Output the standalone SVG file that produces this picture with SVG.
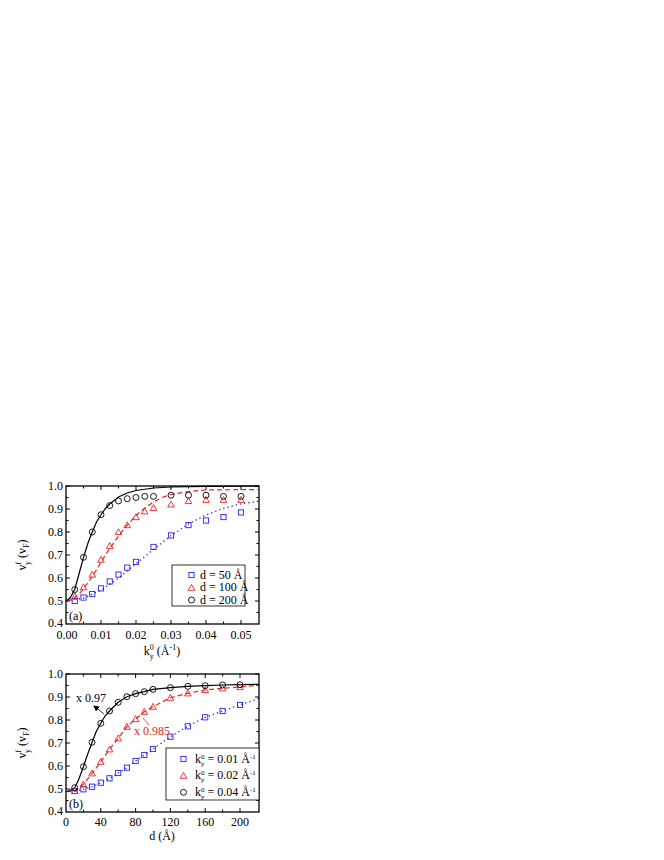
<svg xmlns="http://www.w3.org/2000/svg" width="664" height="860" viewBox="0 0 664 860" font-family="'Liberation Serif','Times New Roman',serif">
<style>
text{font-family:"Liberation Serif","Times New Roman",serif;font-size:12px;fill:#000}
.tl{text-anchor:end}
.tc{text-anchor:middle}
.fr{fill:none;stroke:#000;stroke-width:1.3}
.tk{stroke:#000;stroke-width:1}
.sq{fill:none;stroke:#2222ee;stroke-width:0.9}
.tr{fill:none;stroke:#ee2222;stroke-width:0.9}
.ci{fill:none;stroke:#000;stroke-width:0.9}
.cb{fill:none;stroke:#000;stroke-width:1.2}
.cr{fill:none;stroke:#ee2222;stroke-width:1.2;stroke-dasharray:5 3}
.cu{fill:none;stroke:#2222ee;stroke-width:1.3;stroke-dasharray:1.3 3}
</style>
<defs>
<rect id="s" x="-2.6" y="-2.6" width="5.2" height="5.2" class="sq"/>
<path id="t" d="M0,-3.3 L3.3,2.6 L-3.3,2.6 Z" class="tr"/>
<circle id="c" r="3" class="ci"/>
<marker id="ah" markerWidth="6" markerHeight="6" refX="5" refY="3" orient="auto" markerUnits="userSpaceOnUse"><path d="M0,0 L6,3 L0,6 Z" fill="#000"/></marker>
</defs>
<g id="panel-a">
<rect class="fr" x="66" y="486" width="193" height="138"/>
<g class="tk">
<path d="M66,486h4M66,509h4M66,532h4M66,555h4M66,578h4M66,601h4M66,497.5h2.5M66,520.5h2.5M66,543.5h2.5M66,566.5h2.5M66,589.5h2.5M66,612.5h2.5"/>
<path d="M259,486h-4M259,509h-4M259,532h-4M259,555h-4M259,578h-4M259,601h-4M259,497.5h-2.5M259,520.5h-2.5M259,543.5h-2.5M259,566.5h-2.5M259,589.5h-2.5M259,612.5h-2.5"/>
<path d="M101,624v-4M136,624v-4M171,624v-4M206,624v-4M241,624v-4M83.5,624v-2.5M118.5,624v-2.5M153.5,624v-2.5M188.5,624v-2.5M223.5,624v-2.5"/>
<path d="M101,486v4M136,486v4M171,486v4M206,486v4M241,486v4M83.5,486v2.5M118.5,486v2.5M153.5,486v2.5M188.5,486v2.5M223.5,486v2.5"/>
</g>
<text class="tl" x="63" y="490">1.0</text><text class="tl" x="63" y="513">0.9</text><text class="tl" x="63" y="536">0.8</text><text class="tl" x="63" y="559">0.7</text><text class="tl" x="63" y="582">0.6</text><text class="tl" x="63" y="605">0.5</text><text class="tl" x="63" y="627">0.4</text>
<text class="tc" x="67" y="639">0.00</text><text class="tc" x="101" y="639">0.01</text><text class="tc" x="136" y="639">0.02</text><text class="tc" x="171" y="639">0.03</text><text class="tc" x="206" y="639">0.04</text><text class="tc" x="241" y="639">0.05</text>
<text class="tc" x="162" y="655">k<tspan font-size="8" dy="-5">0</tspan><tspan font-size="8" dx="-4" dy="9">y</tspan><tspan dy="-4"> (Å</tspan><tspan font-size="8" dy="-5">-1</tspan><tspan dy="5">)</tspan></text>
<text transform="translate(26,555) rotate(-90)" class="tc">v<tspan font-size="8" dy="-5">f</tspan><tspan font-size="8" dx="-3" dy="9">y</tspan><tspan dy="-4"> (v</tspan><tspan font-size="8" dy="3">F</tspan><tspan dy="-3">)</tspan></text>
<text x="69" y="620" font-size="13">(a)</text>
<polyline class="cu" points="66,601 83.5,598.2 101,590.2 118.5,578.2 136,563.7 153.5,549.3 171,535.7 188.5,523.9 206,515 223.5,508.3 241,503.9 258.5,501.2"/>
<polyline class="cr" points="66,601 73,599 80,593 87,584 94,574 101,562 108,551 115,541 122,531.5 129,523 136,515.5 144.75,508 153.5,502 162,497.5 171,494.5 188.5,491.5 206,490 258.5,489.5"/>
<polyline class="cb" points="66,601 70,598 74.75,589.5 79,574 83.5,557.3 88,543 92.25,532 96.5,522 101,514.75 105.5,508.5 109.75,504 118.5,497 127.25,493 136,490.5 153.5,488 171,487 206,486.3 258.5,486"/>
<g>
<use href="#s" x="74.75" y="601"/><use href="#s" x="83.5" y="597.55"/><use href="#s" x="92.25" y="594.1"/><use href="#s" x="101" y="588.35"/><use href="#s" x="109.75" y="581.45"/><use href="#s" x="118.5" y="574.55"/><use href="#s" x="127.25" y="567.65"/><use href="#s" x="136" y="561.9"/><use href="#s" x="153.5" y="546.95"/><use href="#s" x="171" y="535.45"/><use href="#s" x="188.5" y="525.1"/><use href="#s" x="206" y="520.5"/><use href="#s" x="223.5" y="517.05"/><use href="#s" x="241" y="512.45"/>
</g>
<g>
<use href="#t" x="74.75" y="596.4"/><use href="#t" x="83.5" y="587.2"/><use href="#t" x="92.25" y="574.55"/><use href="#t" x="101" y="559.6"/><use href="#t" x="109.75" y="545.8"/><use href="#t" x="118.5" y="532"/><use href="#t" x="127.25" y="525.1"/><use href="#t" x="136" y="517.05"/><use href="#t" x="144.75" y="511.3"/><use href="#t" x="153.5" y="507.85"/><use href="#t" x="171" y="504.4"/><use href="#t" x="188.5" y="500.95"/><use href="#t" x="206" y="499.8"/><use href="#t" x="223.5" y="499.8"/><use href="#t" x="241" y="499.8"/>
</g>
<g>
<use href="#c" x="74.75" y="589.5"/><use href="#c" x="83.5" y="557.3"/><use href="#c" x="92.25" y="532"/><use href="#c" x="101" y="514.75"/><use href="#c" x="109.75" y="505.55"/><use href="#c" x="118.5" y="500.95"/><use href="#c" x="127.25" y="498.65"/><use href="#c" x="136" y="497.5"/><use href="#c" x="144.75" y="496.35"/><use href="#c" x="153.5" y="496.35"/><use href="#c" x="171" y="495.2"/><use href="#c" x="188.5" y="495.2"/><use href="#c" x="206" y="495.2"/><use href="#c" x="223.5" y="496.35"/><use href="#c" x="241" y="496.35"/>
</g>
<g id="legend-a">
<rect x="172" y="565" width="73" height="41" fill="#fff" stroke="#000" stroke-width="0.8"/>
<use href="#s" x="191.5" y="575"/><text x="200" y="578.5" font-size="10">d = 50 Å</text>
<use href="#t" x="191.5" y="587.7"/><text x="200" y="591" font-size="10">d = 100 Å</text>
<use href="#c" x="191.5" y="600"/><text x="200" y="603.5" font-size="10">d = 200 Å</text>
</g>
</g>
<g id="panel-b">
<rect class="fr" x="66" y="674" width="193" height="138"/>
<g class="tk">
<path d="M66,674h4M66,697h4M66,720h4M66,743h4M66,766h4M66,789h4M66,685.5h2.5M66,708.5h2.5M66,731.5h2.5M66,754.5h2.5M66,777.5h2.5M66,800.5h2.5"/>
<path d="M259,674h-4M259,697h-4M259,720h-4M259,743h-4M259,766h-4M259,789h-4M259,685.5h-2.5M259,708.5h-2.5M259,731.5h-2.5M259,754.5h-2.5M259,777.5h-2.5M259,800.5h-2.5"/>
<path d="M100.8,812v-4M135.6,812v-4M170.4,812v-4M205.2,812v-4M240,812v-4M83.4,812v-2.5M118.2,812v-2.5M153,812v-2.5M187.8,812v-2.5M222.6,812v-2.5"/>
<path d="M100.8,674v4M135.6,674v4M170.4,674v4M205.2,674v4M240,674v4M83.4,674v2.5M118.2,674v2.5M153,674v2.5M187.8,674v2.5M222.6,674v2.5"/>
</g>
<text class="tl" x="63" y="678">1.0</text><text class="tl" x="63" y="701">0.9</text><text class="tl" x="63" y="724">0.8</text><text class="tl" x="63" y="747">0.7</text><text class="tl" x="63" y="770">0.6</text><text class="tl" x="63" y="793">0.5</text><text class="tl" x="63" y="815">0.4</text>
<text class="tc" x="66" y="826">0</text><text class="tc" x="100.8" y="826">40</text><text class="tc" x="135.6" y="826">80</text><text class="tc" x="170.4" y="826">120</text><text class="tc" x="205.2" y="826">160</text><text class="tc" x="240" y="826">200</text>
<text class="tc" x="162" y="840">d (Å)</text>
<text transform="translate(26,743) rotate(-90)" class="tc">v<tspan font-size="8" dy="-5">f</tspan><tspan font-size="8" dx="-3" dy="9">y</tspan><tspan dy="-4"> (v</tspan><tspan font-size="8" dy="3">F</tspan><tspan dy="-3">)</tspan></text>
<text x="69" y="808" font-size="13">(b)</text>
<polyline class="cu" points="66,791.5 74.7,791 83.4,789.3 92.1,786.7 100.8,782.7 109.5,778.3 118.2,773 126.9,767.7 135.6,761 144.3,755 153,749 170.4,736.7 187.8,726.3 205.2,717.3 222.6,711 240,705 259,698.3"/>
<polyline class="cr" points="66,791.7 74.7,791 83.4,784.3 92.1,773.3 100.8,761.7 109.5,749.3 118.2,738.3 126.9,726.7 135.6,719 144.3,711.7 153,706.7 170.4,697.7 187.8,693.3 205.2,690 222.6,688.3 240,687 259,685"/>
<polyline class="cb" points="66,791.7 70,790.5 74.7,787.7 78.5,780 83.4,766.7 87,756 92.1,742.3 96,732 100.8,723.3 105,716 109.5,711 118.2,702.3 126.9,696.7 135.6,693.7 144.3,691.7 153,689.3 170.4,687.7 187.8,686.3 205.2,685.7 222.6,685 240,684.7 259,684.3"/>
<g>
<use href="#s" x="74.7" y="791"/><use href="#s" x="83.4" y="789.3"/><use href="#s" x="92.1" y="786.7"/><use href="#s" x="100.8" y="782.7"/><use href="#s" x="109.5" y="778.3"/><use href="#s" x="118.2" y="773"/><use href="#s" x="126.9" y="767.7"/><use href="#s" x="135.6" y="761"/><use href="#s" x="144.3" y="755"/><use href="#s" x="153" y="749"/><use href="#s" x="170.4" y="736.7"/><use href="#s" x="187.8" y="726.3"/><use href="#s" x="205.2" y="717.3"/><use href="#s" x="222.6" y="711"/><use href="#s" x="240" y="705"/>
</g>
<g>
<use href="#t" x="74.7" y="791"/><use href="#t" x="83.4" y="784.3"/><use href="#t" x="92.1" y="773.3"/><use href="#t" x="100.8" y="761.7"/><use href="#t" x="109.5" y="749.3"/><use href="#t" x="118.2" y="738.3"/><use href="#t" x="126.9" y="726.7"/><use href="#t" x="135.6" y="719"/><use href="#t" x="144.3" y="711.7"/><use href="#t" x="153" y="706.7"/><use href="#t" x="170.4" y="697.7"/><use href="#t" x="187.8" y="693.3"/><use href="#t" x="205.2" y="690"/><use href="#t" x="222.6" y="688.3"/><use href="#t" x="240" y="687"/>
</g>
<g>
<use href="#c" x="74.7" y="787.7"/><use href="#c" x="83.4" y="766.7"/><use href="#c" x="92.1" y="742.3"/><use href="#c" x="100.8" y="723.3"/><use href="#c" x="109.5" y="711"/><use href="#c" x="118.2" y="702.3"/><use href="#c" x="126.9" y="696.7"/><use href="#c" x="135.6" y="693.7"/><use href="#c" x="144.3" y="691.7"/><use href="#c" x="153" y="689.3"/><use href="#c" x="170.4" y="687.7"/><use href="#c" x="187.8" y="686.3"/><use href="#c" x="205.2" y="685.7"/><use href="#c" x="222.6" y="685"/><use href="#c" x="240" y="684.7"/>
</g>
<g id="annotations">
<text x="76" y="702">x 0.97</text>
<line x1="104" y1="714" x2="94" y2="706" stroke="#000" stroke-width="0.8" marker-end="url(#ah)"/>
<line x1="143" y1="718" x2="149" y2="725" stroke="#ee2222" stroke-width="0.8"/>
<text x="134" y="735" style="fill:#ee2222">x 0.985</text>
</g>
<g id="legend-b">
<rect x="166" y="748" width="93" height="52" fill="#fff" stroke="#000" stroke-width="0.8"/>
<use href="#s" x="183.5" y="759"/><text x="195" y="762.5" font-size="10">k<tspan font-size="7" dy="-4">0</tspan><tspan font-size="7" dx="-3.5" dy="7">y</tspan><tspan dy="-3"> = 0.01 Å</tspan><tspan font-size="7" dy="-4">-1</tspan></text>
<use href="#t" x="183.5" y="775.7"/><text x="195" y="779" font-size="10">k<tspan font-size="7" dy="-4">0</tspan><tspan font-size="7" dx="-3.5" dy="7">y</tspan><tspan dy="-3"> = 0.02 Å</tspan><tspan font-size="7" dy="-4">-1</tspan></text>
<use href="#c" x="183.5" y="792.3"/><text x="195" y="795.5" font-size="10">k<tspan font-size="7" dy="-4">0</tspan><tspan font-size="7" dx="-3.5" dy="7">y</tspan><tspan dy="-3"> = 0.04 Å</tspan><tspan font-size="7" dy="-4">-1</tspan></text>
</g>
</g>
</svg>
